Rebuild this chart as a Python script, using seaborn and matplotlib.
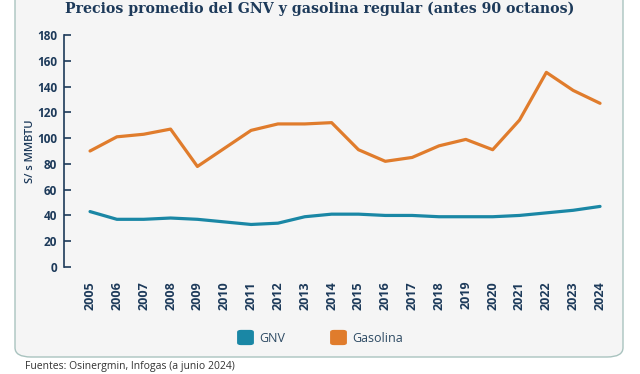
import matplotlib
matplotlib.use("Agg")
import matplotlib.pyplot as plt
from matplotlib.patches import FancyBboxPatch
import seaborn as sns
import pandas as pd

years = list(range(2005, 2025))
gnv = [43, 37, 37, 38, 37, 35, 33, 34, 39, 41, 41, 40, 40, 39, 39, 39, 40, 42, 44, 47]
gasolina = [90, 101, 103, 107, 78, 92, 106, 111, 111, 112, 91, 82, 85, 94, 99, 91, 114, 151, 137, 127]
series_names = ["GNV", "Gasolina"]
colors = {"GNV": "#1a87a5", "Gasolina": "#e07c2c"}

NAVY = "#1d3a5a"

df = pd.DataFrame({"year": years, "GNV": gnv, "Gasolina": gasolina})
long_df = df.melt(id_vars="year", var_name="serie", value_name="precio")

sns.set_style("white")
plt.rcParams["font.family"] = ["Open Sans", "DejaVu Sans"]

W, H = 640, 374
fig = plt.figure(figsize=(W / 100, H / 100), dpi=100)
fig.patch.set_facecolor("white")

# rounded background panel (top edge runs off the image)
panel = FancyBboxPatch(
    (15 / W, 1 - 357 / H), 608 / W, 380 / H,
    boxstyle="round,pad=0,rounding_size=0.025",
    transform=fig.transFigure, facecolor="#f5f5f5", edgecolor="#a9c3bf",
    linewidth=1.0, zorder=-1,
)
fig.patches.append(panel)

ax = fig.add_axes([64 / W, 1 - 267 / H, 561 / W, 232 / H])
ax.set_zorder(2)
ax.set_facecolor("none")

sns.lineplot(
    data=long_df, x="year", y="precio", hue="serie", hue_order=series_names,
    palette=colors, linewidth=2.3, ax=ax, legend=False,
    solid_capstyle="round", solid_joinstyle="round",
)

ax.set_xlim(2004.03, 2024.93)
ax.set_ylim(0, 180)
ax.set_yticks(range(0, 181, 20))
ax.set_xticks(years)
ax.set_xticklabels([str(y) for y in years], rotation=90)
ax.set_xlabel("")
ax.set_ylabel("S/ s MMBTU", fontsize=8, color=NAVY, fontweight="semibold", labelpad=1)

for side in ["top", "right", "bottom"]:
    ax.spines[side].set_visible(False)
ax.spines["left"].set_color(NAVY)
ax.spines["left"].set_linewidth(1.2)

ax.tick_params(axis="y", left=True, direction="in", length=5, width=1.2, color=NAVY,
               labelsize=8.5, labelcolor=NAVY, pad=5)
ax.tick_params(axis="x", bottom=False, length=0, labelsize=9, labelcolor=NAVY, pad=10)
for lab in ax.get_yticklabels() + ax.get_xticklabels():
    lab.set_fontweight("bold")

fig.text(0.5, 1 - 9 / H, "Precios promedio del GNV y gasolina regular (antes 90 octanos)",
         ha="center", va="center", fontsize=10.2, fontweight="bold",
         family=["DejaVu Serif"], color=NAVY)

# legend with rounded swatches
for name, x0 in zip(series_names, [237, 330]):
    sw = FancyBboxPatch(
        ((x0 + 2) / W, 1 - 344 / H), 13 / W, 13 / H,
        boxstyle="round,pad=0.003,rounding_size=0.006",
        transform=fig.transFigure, facecolor=colors[name], edgecolor="none",
    )
    fig.patches.append(sw)
    fig.text((x0 + 22) / W, 1 - 338 / H, name, ha="left", va="center",
             fontsize=9, color="#2d4a63")

fig.text(25 / W, 1 - 366 / H, "Fuentes: Osinergmin, Infogas (a junio 2024)",
         ha="left", va="center", fontsize=7.5, color="#333333")

fig.savefig("out.png", dpi=100)
